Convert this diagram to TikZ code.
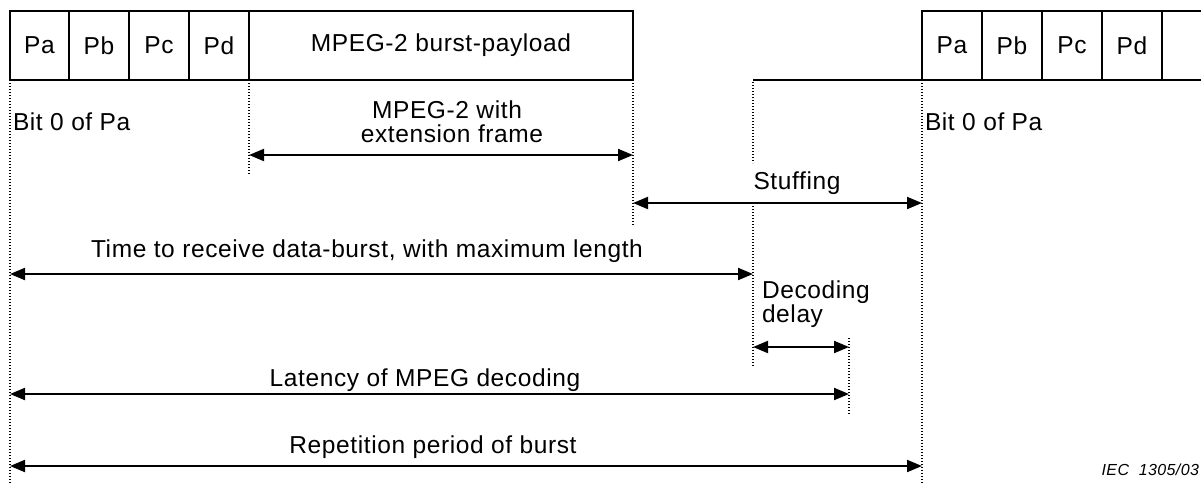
\documentclass[tikz,border=0pt]{standalone}
\usepackage{fontspec}
\setmainfont{Liberation Sans}[LetterSpace=2.5]
\usetikzlibrary{arrows.meta}
\begin{document}
\begin{tikzpicture}[x=1pt,y=-1pt,
  every node/.style={inner sep=0pt,outer sep=0pt},
  lbl/.style={font=\fontsize{24.5}{25}\selectfont},
  field/.style={draw,line width=2.3pt,anchor=north west,minimum height=69pt,font=\fontsize{24.5}{25}\selectfont},
  guide/.style={line width=1.2pt,dash pattern=on 1.2pt off 1.8pt},
  span/.style={line width=2pt,{Triangle[length=15pt,width=12pt]}-{Triangle[length=15pt,width=12pt]}},
  wire/.style={line width=2.3pt}]
\useasboundingbox (0,0) rectangle (1201,483);
\clip (0,0) rectangle (1201,483);

% first burst: preamble words and payload
\node[field,minimum width=59pt] (pa) at (10,11) {Pa};
\node[field,minimum width=60pt] (pb) at (69,11) {Pb};
\node[field,minimum width=60pt] (pc) at (129,11) {Pc};
\node[field,minimum width=60pt] (pd) at (189,11) {Pd};
\node[field,minimum width=384pt] (pl) at (249,11) {MPEG-2 burst-payload};

% next burst
\node[field,minimum width=60pt] (qa) at (922,11) {Pa};
\node[field,minimum width=60pt] (qb) at (982,11) {Pb};
\node[field,minimum width=60pt] (qc) at (1042,11) {Pc};
\node[field,minimum width=60pt] (qd) at (1102,11) {Pd};
\node[field,minimum width=60pt] (qe) at (1162,11) {};

% idle line between bursts
\coordinate (idle) at (753,80);
\draw[wire] (idle) -- (qa.south west);

% time marks
\coordinate (t0) at (10,80);
\coordinate (t0e) at (10,483);
\coordinate (t1) at (249,80);
\coordinate (t1e) at (249,175);
\coordinate (t2) at (633,80);
\coordinate (t2e) at (633,225);
\coordinate (t3) at (753,82);
\coordinate (t3a) at (753,163);
\coordinate (t3b) at (753,203);
\coordinate (t3e) at (753,367);
\coordinate (t4) at (922,80);
\coordinate (t4e) at (922,483);
\coordinate (t5) at (849,338);
\coordinate (t5e) at (849,415);
\draw[guide] (t0) -- (t0e);
\draw[guide] (t1) -- (t1e);
\draw[guide] (t2) -- (t2e);
\draw[guide] (t3) -- (t3a);
\draw[guide] (t3b) -- (t3e);
\draw[guide] (t4) -- (t4e);
\draw[guide] (t5) -- (t5e);

\node[lbl,anchor=base west] (bit1) at (13,130) {Bit 0 of Pa};
\node[lbl,anchor=base west] (bit2) at (925,130) {Bit 0 of Pa};

% durations
\coordinate (ext1) at (249,155);
\coordinate (ext2) at (633,155);
\draw[span] (ext1) -- (ext2);
\node[lbl,anchor=base] (extA) at (447,118) {MPEG-2 with};
\node[lbl,anchor=base] (extB) at (452,142) {extension frame};

\coordinate (stf1) at (633,203);
\coordinate (stf2) at (922,203);
\draw[span] (stf1) -- (stf2);
\node[lbl,anchor=base] (stf) at (797,189) {Stuffing};

\coordinate (rcv1) at (10,274);
\coordinate (rcv2) at (753,274);
\draw[span] (rcv1) -- (rcv2);
\node[lbl,anchor=base] (rcv) at (367,257) {Time to receive data-burst, with maximum length};

\coordinate (dec1) at (753,347);
\coordinate (dec2) at (849,347);
\draw[span] (dec1) -- (dec2);
\node[lbl,anchor=base west] (decA) at (762,298) {Decoding};
\node[lbl,anchor=base west] (decB) at (762,322) {delay};

\coordinate (lat1) at (10,394);
\coordinate (lat2) at (849,394);
\draw[span] (lat1) -- (lat2);
\node[lbl,anchor=base] (lat) at (425,386) {Latency of MPEG decoding};

\coordinate (rep1) at (10,466);
\coordinate (rep2) at (922,466);
\draw[span] (rep1) -- (rep2);
\node[lbl,anchor=base] (rep) at (433,453) {Repetition period of burst};

\node[anchor=base east,font=\fontsize{16}{17}\selectfont\itshape] (ref) at (1199,475) {IEC\ \ 1305/03};
\end{tikzpicture}
\end{document}
